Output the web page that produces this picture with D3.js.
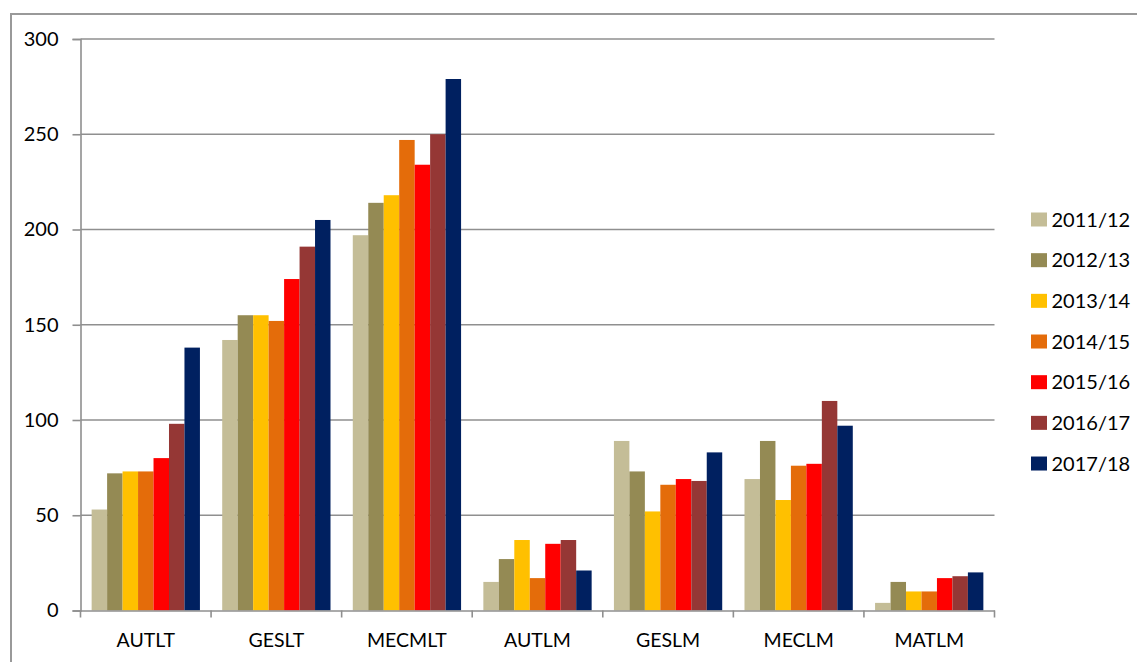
<!DOCTYPE html>
<html>
<head>
<meta charset="utf-8">
<script src="https://cdn.jsdelivr.net/npm/d3@7"></script>
<style>
  html, body { margin: 0; padding: 0; background: #fff; }
  svg { display: block; }
  text { font-family: Lato, "Open Sans", sans-serif; fill: #000; }
</style>
</head>
<body>
<svg id="chart" width="1137" height="662"></svg>
<script>
const categories = ["AUTLT", "GESLT", "MECMLT", "AUTLM", "GESLM", "MECLM", "MATLM"];
const seriesNames = ["2011/12", "2012/13", "2013/14", "2014/15", "2015/16", "2016/17", "2017/18"];
const v2011 = [53, 142, 197, 15, 89, 69, 4];
const v2012 = [72, 155, 214, 27, 73, 89, 15];
const v2013 = [73, 155, 218, 37, 52, 58, 10];
const v2014 = [73, 152, 247, 17, 66, 76, 10];
const v2015 = [80, 174, 234, 35, 69, 77, 17];
const v2016 = [98, 191, 250, 37, 68, 110, 18];
const v2017 = [138, 205, 279, 21, 83, 97, 20];
const yTicks = [0, 50, 100, 150, 200, 250, 300];
const colors = ["#C4BD97", "#948A54", "#FFC000", "#E46C0A", "#FF0000", "#953735", "#002060"];

const seriesValues = [v2011, v2012, v2013, v2014, v2015, v2016, v2017];

const svg = d3.select("#chart");

// outer chart border (extends beyond the viewport on right/bottom)
svg.append("rect")
  .attr("x", 11).attr("y", 14)
  .attr("width", 1200).attr("height", 700)
  .attr("fill", "none").attr("stroke", "#999").attr("stroke-width", 2);

const plotLeft = 80.5, plotRight = 994.5, plotTop = 39, plotBottom = 610.5;

const x0 = d3.scaleBand().domain(categories).range([plotLeft, plotRight]).padding(0);
const x1 = d3.scaleBand().domain(seriesNames).range([0, x0.bandwidth()])
  .paddingInner(0).paddingOuter(0.72);
const y = d3.scaleLinear().domain([0, 300]).range([plotBottom, plotTop]);

// gridlines
svg.append("g").selectAll("line")
  .data(yTicks.filter(t => t > 0))
  .join("line")
  .attr("x1", plotLeft).attr("x2", plotRight)
  .attr("y1", d => y(d)).attr("y2", d => y(d))
  .attr("stroke", "#8f8f8f").attr("stroke-width", 1.6);

// bars
const groups = svg.append("g").selectAll("g")
  .data(categories)
  .join("g")
  .attr("transform", d => `translate(${x0(d)},0)`);

groups.selectAll("rect")
  .data((c, ci) => seriesNames.map((s, si) => ({ s, si, v: seriesValues[si][ci] })))
  .join("rect")
  .attr("x", d => x1(d.s))
  .attr("width", x1.bandwidth())
  .attr("y", d => y(d.v))
  .attr("height", d => y(0) - y(d.v))
  .attr("fill", d => colors[d.si]);

// y axis
const yAxis = d3.axisLeft(y).tickValues(yTicks).tickSize(8).tickPadding(14).tickFormat(d3.format("d"));
const gy = svg.append("g").attr("transform", `translate(${plotLeft},0)`).call(yAxis);
gy.select(".domain").attr("stroke", "#8f8f8f").attr("stroke-width", 1.6);
gy.selectAll(".tick line").attr("stroke", "#8f8f8f").attr("stroke-width", 1.6);
gy.selectAll(".tick text").attr("font-size", 20).attr("font-family", "Lato, sans-serif").attr("fill", "#000");

// x axis
const xAxis = d3.axisBottom(x0).tickSize(0).tickPadding(23);
const gx = svg.append("g").attr("transform", `translate(0,${plotBottom})`).call(xAxis);
gx.select(".domain").attr("stroke", "#8f8f8f").attr("stroke-width", 1.6);
gx.selectAll(".tick text").attr("font-size", 19.5).attr("font-family", "Lato, sans-serif").attr("fill", "#000");
// category boundary tick marks
gx.append("g").selectAll("line")
  .data(categories.map(c => x0(c)).concat([x0(categories[categories.length - 1]) + x0.bandwidth()]))
  .join("line")
  .attr("x1", d => d).attr("x2", d => d)
  .attr("y1", 0).attr("y2", 7)
  .attr("stroke", "#8f8f8f").attr("stroke-width", 1.6);

// legend
const legend = svg.append("g").attr("transform", "translate(1031,219.5)");
const rows = legend.selectAll("g")
  .data(seriesNames)
  .join("g")
  .attr("transform", (d, i) => `translate(0,${i * 40.67})`);
rows.append("rect")
  .attr("x", 0).attr("y", -7).attr("width", 16).attr("height", 14)
  .attr("fill", (d, i) => colors[i]);
rows.append("text")
  .attr("x", 20.5).attr("y", 0).attr("dy", "0.36em")
  .attr("font-size", 20)
  .text(d => d);
</script>
</body>
</html>
